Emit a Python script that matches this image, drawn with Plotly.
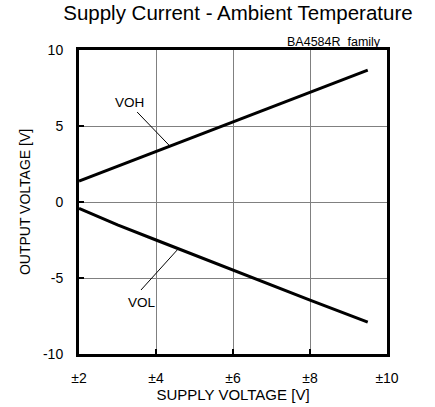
import plotly.graph_objects as go

# ---- data ----
supply_v = [2, 3, 4, 5, 6, 7, 8, 9.5]
voh = [1.38, 2.35, 3.35, 4.3, 5.27, 6.23, 7.2, 8.68]
vol = [-0.42, -1.5, -2.5, -3.5, -4.45, -5.45, -6.45, -7.9]

x_tickvals = [2, 4, 6, 8, 10]
x_ticktext = ["±2", "±4", "±6", "±8", "±10"]
y_tickvals = [-10, -5, 0, 5, 10]
y_ticktext = ["-10", "-5", "0", "5", "10"]

title_text = "Supply Current - Ambient Temperature"
subtitle_text = "BA4584R  family"
x_title = "SUPPLY VOLTAGE [V]"
y_title = "OUTPUT VOLTAGE [V]"

# label annotations: (text, label x, label y, pointer end x, pointer end y, pointer start x, pointer start y)
voh_label = ("VOH", 3.31, 6.55, 4.36, 3.68, 3.51, 5.92)
vol_label = ("VOL", 3.64, -6.6, 4.55, -3.16, 3.61, -5.79)

FONT = "Liberation Sans, Arial, sans-serif"

fig = go.Figure()
fig.add_trace(go.Scatter(x=supply_v, y=voh, mode="lines", name="VOH",
                         line=dict(color="black", width=3), showlegend=False))
fig.add_trace(go.Scatter(x=supply_v, y=vol, mode="lines", name="VOL",
                         line=dict(color="black", width=3), showlegend=False))

for lab in (voh_label, vol_label):
    text, lx, ly, ex, ey, sx, sy = lab
    fig.add_annotation(x=lx, y=ly, text=text, showarrow=False,
                       font=dict(family=FONT, size=13.5, color="black"))
    fig.add_shape(type="line", x0=sx, y0=sy, x1=ex, y1=ey,
                  line=dict(color="black", width=1))

fig.add_annotation(xref="paper", yref="paper", x=0.986, y=1.026,
                   xanchor="right", yanchor="middle", text=subtitle_text,
                   showarrow=False, font=dict(family=FONT, size=12.5, color="black"))

fig.update_layout(
    width=435, height=407,
    margin=dict(l=79, r=48, t=50, b=53),
    paper_bgcolor="white", plot_bgcolor="white",
    font=dict(family=FONT, color="black"),
    title=dict(text=title_text, x=0.547, y=0.968, xanchor="center", yanchor="middle",
               xref="container", yref="container",
               font=dict(family=FONT, size=20.5, color="black")),
    xaxis=dict(range=[2, 10], tickvals=x_tickvals, ticktext=x_ticktext,
               automargin=False,
               showgrid=True, gridcolor="#808080", gridwidth=1,
               showline=True, linecolor="black", linewidth=3, mirror=True,
               ticks="inside", ticklen=5, tickwidth=2, tickcolor="black",
               ticklabelstandoff=9, zeroline=False,
               tickfont=dict(family=FONT, size=14),
               title=dict(text=x_title, font=dict(family=FONT, size=15), standoff=2)),
    yaxis=dict(range=[-10, 10], tickvals=y_tickvals, ticktext=y_ticktext,
               automargin=False,
               showgrid=True, gridcolor="#808080", gridwidth=1,
               showline=True, linecolor="black", linewidth=3, mirror=True,
               ticks="inside", ticklen=5, tickwidth=2, tickcolor="black",
               ticklabelstandoff=10, zeroline=False,
               tickfont=dict(family=FONT, size=14),
               title=dict(text=y_title, font=dict(family=FONT, size=14), standoff=10)),
)

fig.write_html("out.html",
               config={"displayModeBar": False},
               post_script="document.body.style.margin='0';document.body.style.overflow='hidden';")
